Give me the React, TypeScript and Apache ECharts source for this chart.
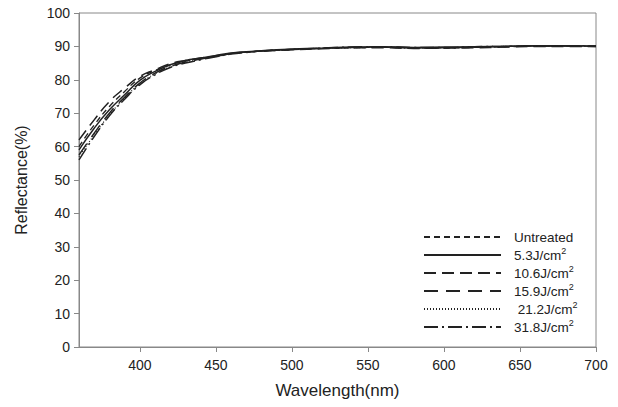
import React, { useEffect, useRef } from "react";
import * as echarts from "echarts";

const wavelengths = [360, 370, 380, 390, 400, 410, 420, 430, 440, 450, 460, 470, 480, 490, 500, 520, 540, 560, 580, 600, 620, 640, 660, 680, 700];
const untreated = [60, 66.5, 72, 76.5, 80.5, 82.8, 84.5, 85.6, 86.3, 87, 87.8, 88.3, 88.6, 88.8, 89, 89.4, 89.6, 89.7, 89.5, 89.5, 89.7, 89.9, 90.1, 90.1, 90];
const j53 = [59, 65.5, 71, 75.5, 79.8, 82.5, 84.5, 85.8, 86.5, 87.3, 88, 88.4, 88.7, 89, 89.2, 89.5, 89.8, 89.9, 89.7, 89.8, 89.9, 90, 90.2, 90.2, 90.1];
const j106 = [62, 68, 73.5, 77.5, 81, 83, 84.8, 85.8, 86.5, 87.2, 87.9, 88.3, 88.6, 88.8, 89, 89.3, 89.6, 89.6, 89.4, 89.5, 89.6, 89.8, 90, 90, 90];
const j159 = [57.5, 64, 70, 74.8, 79, 82, 84, 85.3, 86.2, 87, 87.8, 88.3, 88.6, 88.9, 89.1, 89.4, 89.7, 89.8, 89.6, 89.6, 89.8, 90, 90.1, 90.1, 90];
const j212 = [57, 63.5, 69.5, 74.5, 78.8, 81.8, 83.9, 85.2, 86.2, 87, 87.8, 88.3, 88.6, 88.9, 89.1, 89.4, 89.6, 89.7, 89.5, 89.6, 89.8, 90, 90.1, 90.1, 90];
const j318 = [56, 63, 69.2, 74.2, 78.5, 81.5, 83.7, 85, 86, 86.9, 87.7, 88.2, 88.6, 88.9, 89.1, 89.5, 89.8, 89.9, 89.7, 89.7, 89.9, 90, 90.2, 90.2, 90.1];
const xTicks = [400, 450, 500, 550, 600, 650, 700];

const seriesDefs = [
  { name: "Untreated", label: "Untreated", data: untreated, type: [6, 4] as any, width: 1.3 },
  { name: "5.3J/cm2", label: "5.3J/cm{sup|2}", data: j53, type: "solid" as any, width: 1.5 },
  { name: "10.6J/cm2", label: "10.6J/cm{sup|2}", data: j106, type: [12, 6] as any, width: 1.5 },
  { name: "15.9J/cm2", label: "15.9J/cm{sup|2}", data: j159, type: [14, 8] as any, width: 1.5 },
  { name: "21.2J/cm2", label: " 21.2J/cm{sup|2}", data: j212, type: [1, 2] as any, width: 1.2 },
  { name: "31.8J/cm2", label: "31.8J/cm{sup|2}", data: j318, type: [14, 4, 2, 4] as any, width: 1.5 },
];

export default function App() {
  const ref = useRef<HTMLDivElement>(null);
  useEffect(() => {
    if (!ref.current) return;
    const chart = echarts.init(ref.current, null, { renderer: "svg" });
    const labelMap: Record<string, string> = {};
    seriesDefs.forEach((s) => (labelMap[s.name] = s.label));
    const font = "Liberation Sans, Arial, sans-serif";
    chart.setOption({
      animation: false,
      backgroundColor: "#ffffff",
      grid: {
        left: 79,
        right: 22,
        top: 13,
        bottom: 60,
        show: true,
        borderColor: "#888",
        borderWidth: 1,
      },
      legend: {
        orient: "vertical",
        left: 418,
        top: 225,
        itemWidth: 77,
        itemHeight: 10,
        itemGap: 2.5,
        itemStyle: { opacity: 0 },
        data: seriesDefs.map((s) => s.name),
        formatter: (n: string) => labelMap[n] || n,
        textStyle: {
          fontFamily: font,
          fontSize: 13.5,
          color: "#222",
          padding: [0, 0, 0, 8],
          rich: {
            sup: { fontSize: 9, verticalAlign: "top", padding: [0, 0, 8, 0], fontFamily: font, color: "#222" },
          },
        },
      },
      xAxis: {
        type: "value",
        min: 360,
        max: 700,
        name: "Wavelength(nm)",
        nameLocation: "middle",
        nameGap: 35,
        nameTextStyle: { fontFamily: font, fontSize: 17, color: "#222" },
        axisLine: { show: true, lineStyle: { color: "#888" } },
        axisTick: { show: true, length: 5, customValues: xTicks, lineStyle: { color: "#888" } },
        axisLabel: { customValues: xTicks, fontFamily: font, fontSize: 14, color: "#222", margin: 11 },
        splitLine: { show: false },
      },
      yAxis: {
        type: "value",
        min: 0,
        max: 100,
        interval: 10,
        name: "Reflectance(%)",
        nameLocation: "middle",
        nameGap: 50,
        nameTextStyle: { fontFamily: font, fontSize: 16, color: "#222" },
        axisLine: { show: true, lineStyle: { color: "#888" } },
        axisTick: { show: true, length: 5, lineStyle: { color: "#888" } },
        axisLabel: { fontFamily: font, fontSize: 14, color: "#222", margin: 9 },
        splitLine: { show: false },
      },
      series: seriesDefs.map((s) => ({
        name: s.name,
        type: "line",
        data: wavelengths.map((w, i) => [w, s.data[i]]),
        showSymbol: false,
        symbol: "none",
        smooth: true,
        lineStyle: { color: "#222", width: s.width, type: s.type },
        itemStyle: { color: "#222" },
      })),
    });
    return () => chart.dispose();
  }, []);
  return <div ref={ref} style={{ position: "fixed", left: 0, top: 0, width: 618, height: 407 }} />;
}
